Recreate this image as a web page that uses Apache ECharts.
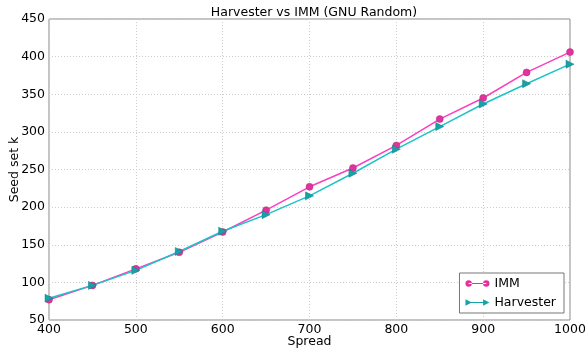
<!DOCTYPE html>
<html>
<head>
<meta charset="utf-8">
<script src="https://cdn.jsdelivr.net/npm/echarts@6/dist/echarts.min.js"></script>
<style>
  html, body { margin: 0; padding: 0; background: #fff; }
  #chart { width: 585px; height: 349px; }
</style>
</head>
<body>
<div id="chart"></div>
<script>
// data
var spread = [400, 450, 500, 550, 600, 650, 700, 750, 800, 850, 900, 950, 1000];
var imm = [77, 96, 118, 140, 167, 196, 227, 252, 282, 317, 345, 379, 406];
var harvester = [79, 96, 116, 141, 168, 190, 215, 245, 277, 307, 337, 364, 390];
var yTicks = [50, 100, 150, 200, 250, 300, 350, 400, 450];

var font = 'DejaVu Sans';
var immLine = '#fb3fc0', immMark = '#e2329e';
var harvLine = '#1cc4c9', harvMark = '#17a2a8';

function pairs(ys) {
  return spread.map(function (x, i) { return [x, ys[i]]; });
}

// legend icons: line with a marker at each end
var circleIcon = 'path://M0,5a4,4 0 1,0 8,0a4,4 0 1,0 -8,0ZM4,4.5H26V5.5H4ZM22,5a4,4 0 1,0 8,0a4,4 0 1,0 -8,0Z';
var triIcon = 'path://M0,1L8,5L0,9ZM4,4.5H26V5.5H4ZM22,1L30,5L22,9Z';

var chart = echarts.init(document.getElementById('chart'));
var option = {
  animation: false,
  backgroundColor: '#fff',
  title: {
    text: 'Harvester vs IMM (GNU Random)',
    left: 309, top: 1, textAlign: 'center',
    textStyle: { fontFamily: font, fontSize: 12.5, fontWeight: 'normal', color: '#000' }
  },
  grid: {
    left: 49, right: 15, top: 19, bottom: 29,
    outerBoundsMode: 'none',
    show: true, borderColor: '#888', borderWidth: 1
  },
  legend: {
    right: 21, bottom: 36,
    orient: 'vertical',
    itemWidth: 24, itemHeight: 8, itemGap: 6,
    padding: [4, 8, 4, 6],
    borderColor: '#777', borderWidth: 1, borderRadius: 0,
    backgroundColor: '#fff',
    itemStyle: { borderWidth: 0 },
    lineStyle: { width: 0 },
    textStyle: { fontFamily: font, fontSize: 12.5, color: '#000' },
    data: [
      { name: 'IMM', icon: circleIcon, itemStyle: { color: immMark, borderWidth: 0 } },
      { name: 'Harvester', icon: triIcon, itemStyle: { color: harvMark, borderWidth: 0 } }
    ]
  },
  xAxis: {
    type: 'value', min: 400, max: 1000, interval: 100,
    name: 'Spread', nameLocation: 'middle', nameGap: 15, nameMoveOverlap: false,
    nameTextStyle: { fontFamily: font, fontSize: 12.5, color: '#000' },
    axisLine: { show: false }, axisTick: { show: false },
    axisLabel: { fontFamily: font, fontSize: 12.5, color: '#000', margin: 3,
      formatter: function (v) { return String(v); } },
    splitLine: { lineStyle: { color: '#ccc', type: [1, 2] } }
  },
  yAxis: {
    type: 'value', min: yTicks[0], max: yTicks[yTicks.length - 1], interval: 50,
    name: 'Seed set k', nameLocation: 'middle', nameGap: 28, nameMoveOverlap: false,
    nameTextStyle: { fontFamily: font, fontSize: 12.5, color: '#000' },
    axisLine: { show: false }, axisTick: { show: false },
    axisLabel: { fontFamily: font, fontSize: 12.5, color: '#000', margin: 4 },
    splitLine: { lineStyle: { color: '#ccc', type: [1, 2] } }
  },
  series: [
    {
      name: 'IMM', type: 'line', data: pairs(imm),
      symbol: 'circle', symbolSize: 7,
      lineStyle: { color: immLine, width: 1.5 },
      itemStyle: { color: immMark, borderColor: '#b0287a', borderWidth: 0.5 }
    },
    {
      name: 'Harvester', type: 'line', data: pairs(harvester),
      symbol: 'triangle', symbolSize: 8, symbolRotate: -90,
      lineStyle: { color: harvLine, width: 1.5 },
      itemStyle: { color: harvMark, borderColor: '#127d82', borderWidth: 0.5 }
    }
  ]
};
chart.setOption(option);
</script>
</body>
</html>
